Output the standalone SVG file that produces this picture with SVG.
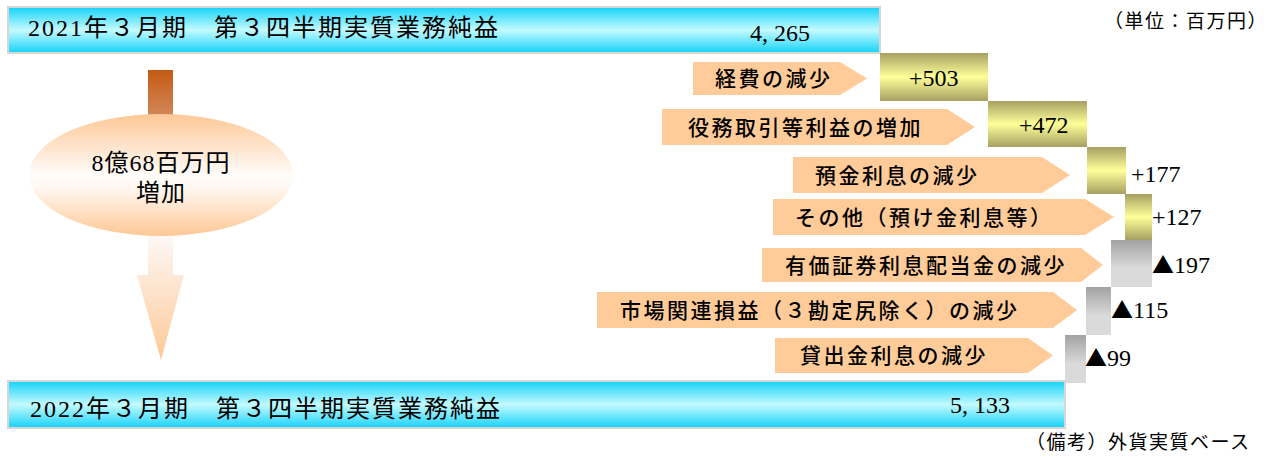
<svg xmlns="http://www.w3.org/2000/svg" width="1269" height="458" viewBox="0 0 1269 458">
<style>
.bar{fill:url(#gCyan);stroke:#d6d6d6;stroke-width:2}
.gold{fill:url(#gGold)}
.grey{fill:url(#gGrey)}
.lbl{fill:#ffcc99}
.title{font-family:"Liberation Serif","Noto Sans CJK JP",serif;font-size:24px;fill:#000;letter-spacing:2px}
.num{font-family:"Liberation Serif","Noto Sans CJK JP",serif;font-size:24px;fill:#000}
.tri{font-family:"Noto Sans CJK JP",sans-serif;font-size:22px}
.jp{font-family:"Noto Sans CJK JP","Noto Sans",sans-serif;font-size:21px;font-weight:500;fill:#000;letter-spacing:2.5px}
.note{font-family:"Liberation Serif","Noto Sans CJK JP",serif;font-size:19px;fill:#000;letter-spacing:1.5px}
.mid{font-family:"Liberation Serif","Noto Sans CJK JP",serif;font-size:24px;fill:#000;text-anchor:middle;letter-spacing:1px}
</style>
<defs>
<linearGradient id="gCyan" x1="0" y1="0" x2="0" y2="1">
<stop offset="0" stop-color="#14d2f8"/><stop offset="0.5" stop-color="#c4faff"/><stop offset="1" stop-color="#14d2f8"/>
</linearGradient>
<linearGradient id="gGold" x1="0" y1="0" x2="0" y2="1">
<stop offset="0" stop-color="#a6a062"/><stop offset="0.5" stop-color="#ffff99"/><stop offset="1" stop-color="#a6a062"/>
</linearGradient>
<linearGradient id="gGrey" x1="0" y1="0" x2="0" y2="1">
<stop offset="0" stop-color="#a2a2a2"/><stop offset="0.6" stop-color="#dadada"/><stop offset="1" stop-color="#dadada"/>
</linearGradient>
<linearGradient id="gEll" x1="0" y1="0" x2="0" y2="1">
<stop offset="0" stop-color="#fdc896"/><stop offset="0.5" stop-color="#fffcfa"/><stop offset="0.6" stop-color="#fff8f2"/><stop offset="1" stop-color="#fdc896"/>
</linearGradient>
<linearGradient id="gArrow" gradientUnits="userSpaceOnUse" x1="0" y1="70" x2="0" y2="360">
<stop offset="0" stop-color="#c45a12"/><stop offset="0.16" stop-color="#d2895c"/><stop offset="0.57" stop-color="#fdf8f7"/><stop offset="1" stop-color="#fdc896"/>
</linearGradient>
</defs>

<g id="connectors">
<path d="M148,70 H173 V275 H184 L161,360 L137,275 H148 Z" fill="url(#gArrow)"/>
</g>

<g id="top-bar">
<rect class="bar" x="8" y="7" width="872" height="46"/>
<text class="title" x="28" y="36">2021年３月期　第３四半期実質業務純益</text>
<text class="num" x="750" y="41">4,<tspan dx="6">265</tspan></text>
</g>

<g id="unit-note">
<text class="note" x="1104" y="28">（単位：百万円）</text>
</g>

<g id="increase-note">
<ellipse cx="161" cy="175" rx="132" ry="61" fill="url(#gEll)"/>
<text class="mid" x="161" y="171">8億68百万円</text>
<text class="mid" x="161" y="201">増加</text>
</g>

<g id="step-1">
<polygon class="lbl" points="693,62 840,62 867,78.5 840,95 693,95"/>
<text class="jp" x="715" y="86">経費の減少</text>
<rect class="gold" x="880" y="53" width="108" height="48"/>
<text class="num" x="909" y="86">+503</text>
</g>

<g id="step-2">
<polygon class="lbl" points="662,109 947,109 975,127 947,145 662,145"/>
<text class="jp" x="688" y="135">役務取引等利益の増加</text>
<rect class="gold" x="988" y="101" width="99" height="46"/>
<text class="num" x="1019" y="133">+472</text>
</g>

<g id="step-3">
<polygon class="lbl" points="793,157 1042,157 1070,175 1042,193 793,193"/>
<text class="jp" x="815" y="183">預金利息の減少</text>
<rect class="gold" x="1087" y="147" width="39" height="47"/>
<text class="num" x="1131" y="182">+177</text>
</g>

<g id="step-4">
<polygon class="lbl" points="773,199 1085,199 1114,217 1085,235 773,235"/>
<text class="jp" x="795" y="225">その他（預け金利息等）</text>
<rect class="gold" x="1125" y="194" width="27" height="46"/>
<text class="num" x="1152" y="225">+127</text>
</g>

<g id="step-5">
<polygon class="lbl" points="762,248 1081,248 1103,265 1081,282 762,282"/>
<text class="jp" x="785" y="273">有価証券利息配当金の減少</text>
<rect class="grey" x="1111" y="240" width="41" height="47"/>
<text class="num" x="1152" y="273"><tspan class="tri">▲</tspan>197</text>
</g>

<g id="step-6">
<polygon class="lbl" points="597,292 1053,292 1077,310 1053,328 597,328"/>
<text class="jp" x="620" y="318">市場関連損益（３勘定尻除く）の減少</text>
<rect class="grey" x="1086" y="287" width="25" height="48"/>
<text class="num" x="1111" y="318"><tspan class="tri">▲</tspan>115</text>
</g>

<g id="step-7">
<polygon class="lbl" points="775,338 1028,338 1053,355.5 1028,373 775,373"/>
<text class="jp" x="800" y="363">貸出金利息の減少</text>
<rect class="grey" x="1065" y="335" width="21" height="48"/>
<text class="num" x="1085" y="366"><tspan class="tri">▲</tspan>99</text>
</g>

<g id="bottom-bar">
<rect class="bar" x="8" y="381" width="1057" height="47"/>
<text class="title" x="30" y="417">2022年３月期　第３四半期実質業務純益</text>
<text class="num" x="950" y="413">5,<tspan dx="6">133</tspan></text>
</g>

<g id="remark">
<text class="note" x="1026" y="449">（備考）外貨実質ベース</text>
</g>
</svg>
